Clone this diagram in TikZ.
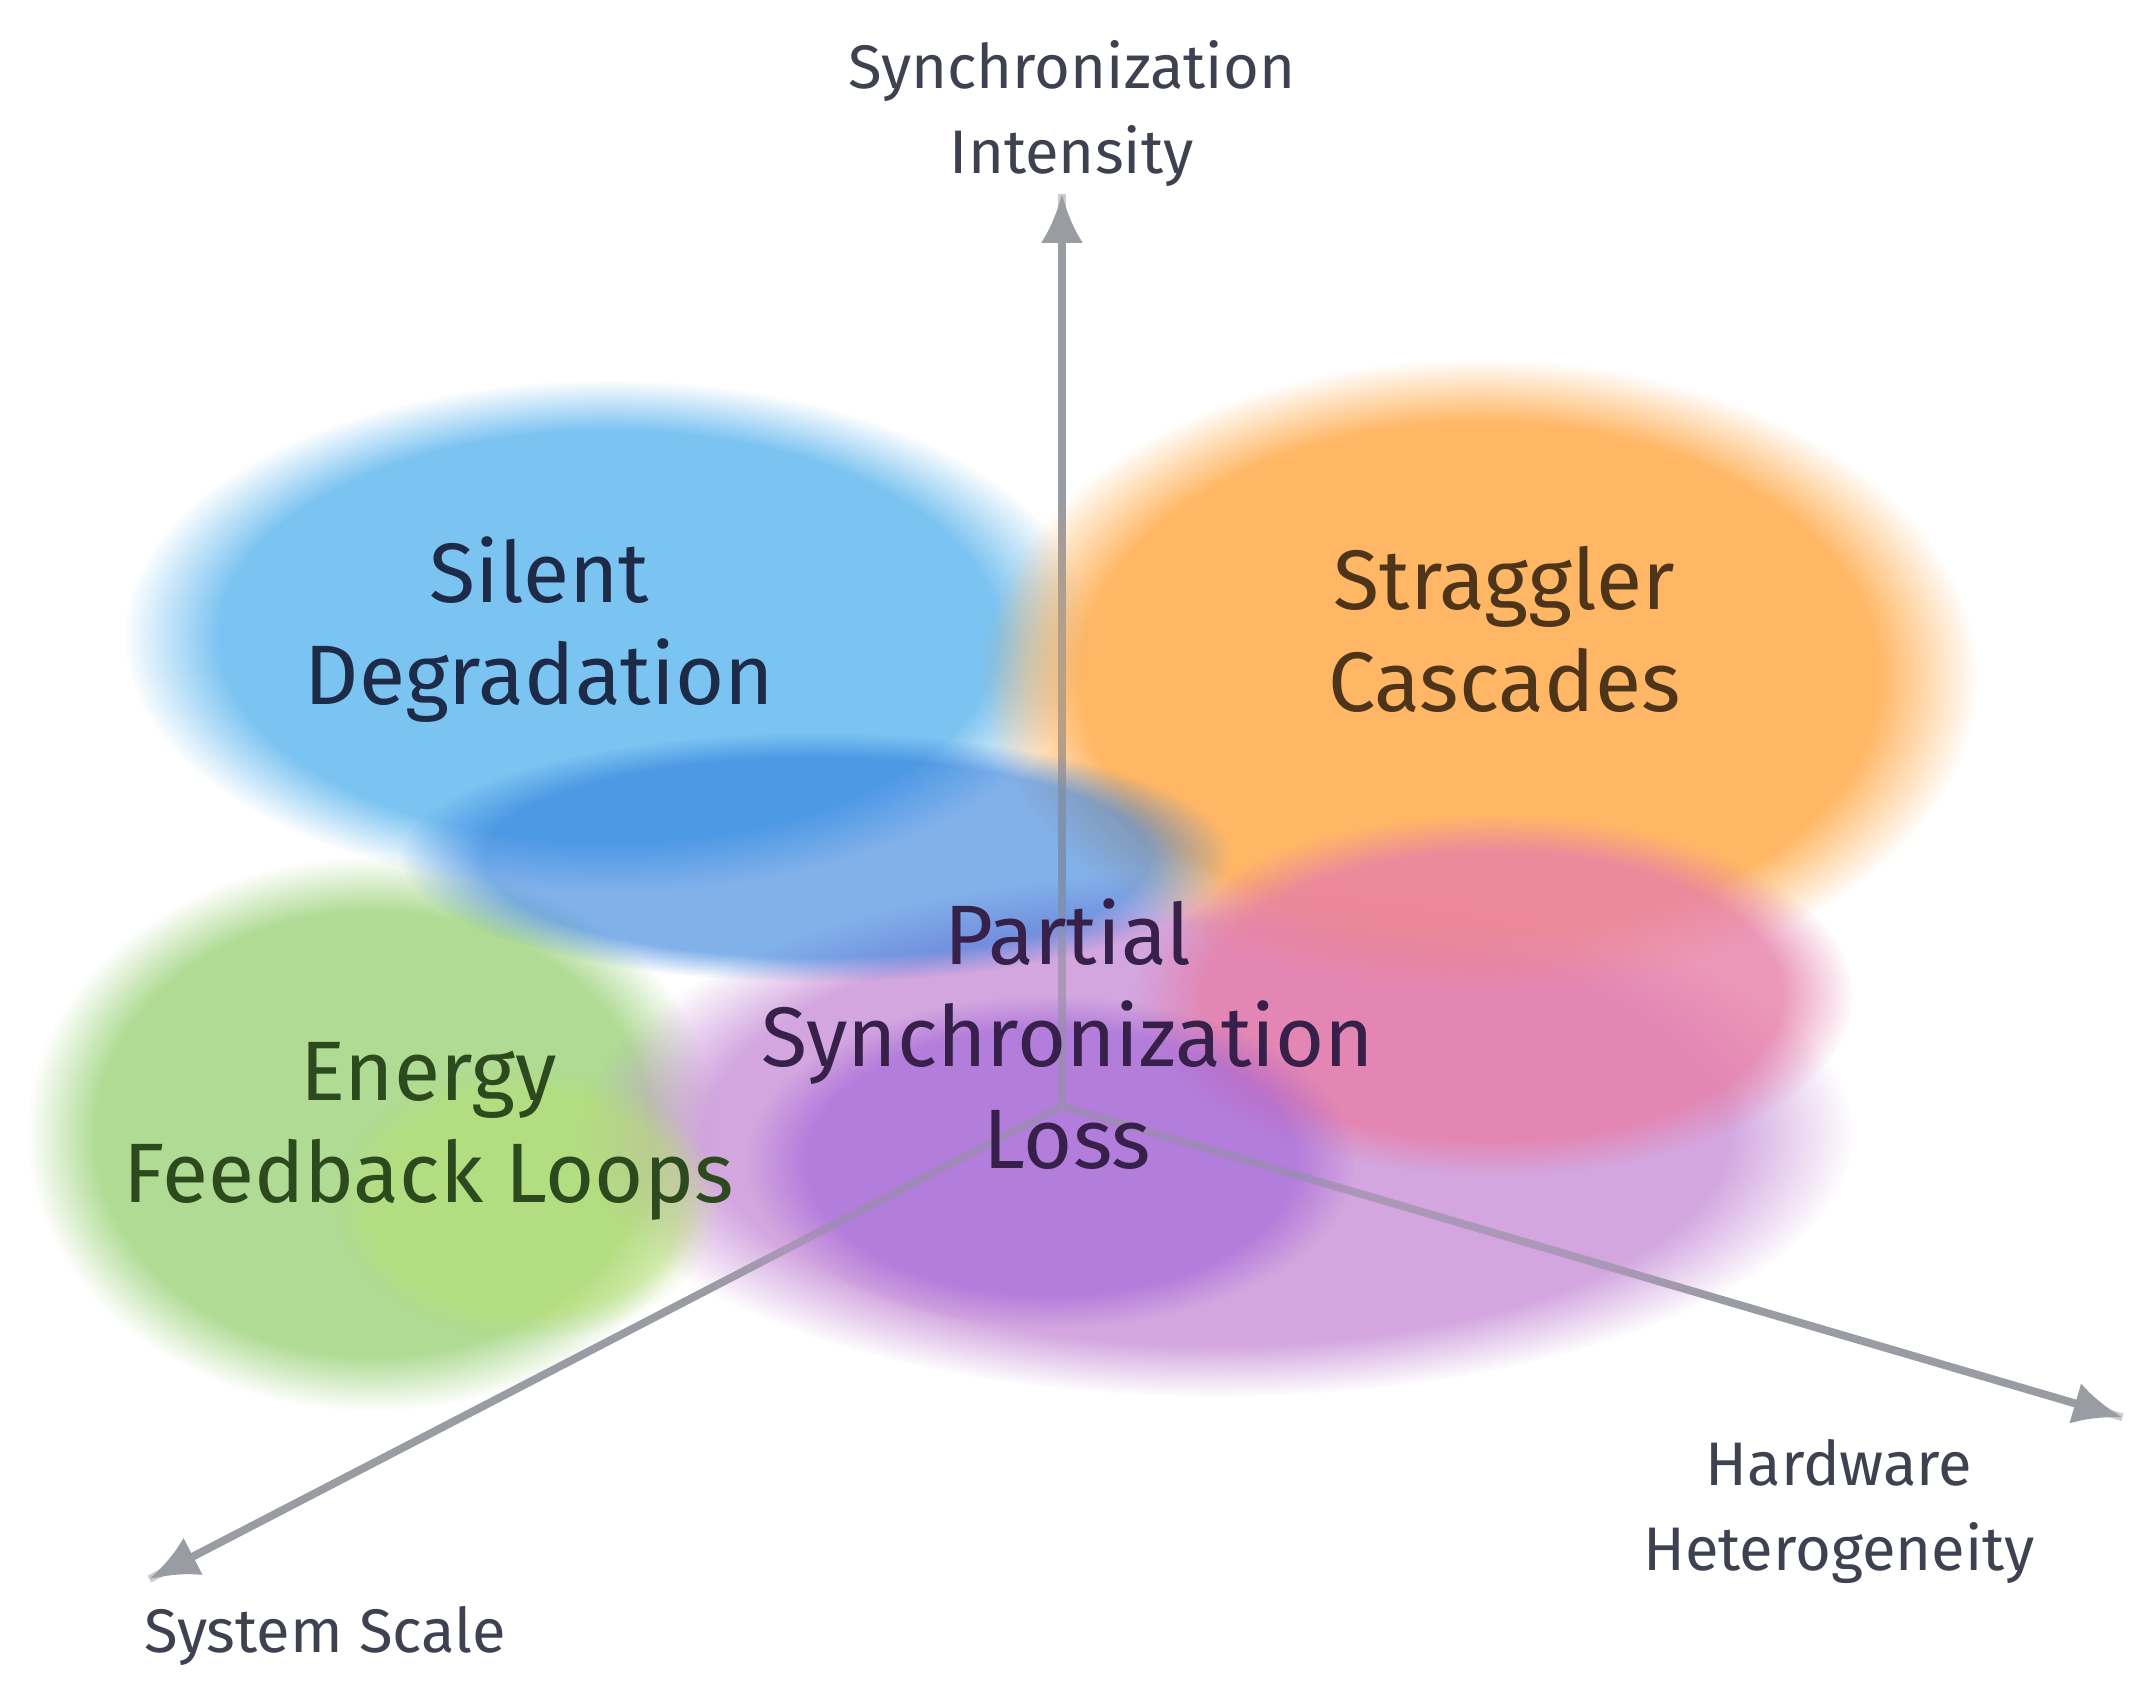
\documentclass[tikz,border=0pt]{standalone}
\usepackage{fontspec}
\setmainfont{Fira Sans}
\usetikzlibrary{fadings,arrows.meta}
\definecolor{axisc}{HTML}{9A9CA4}
\definecolor{axtext}{HTML}{3E4250}
\definecolor{cgreen}{HTML}{9CD27A}
\definecolor{cblue}{HTML}{5AB4EE}
\definecolor{cpurp}{HTML}{C890D8}
\definecolor{corange}{HTML}{FFA640}
\definecolor{cpink}{HTML}{E77FA8}
\definecolor{cdblue}{HTML}{2F7DDC}
\definecolor{cviol}{HTML}{9A5CD8}
\definecolor{clime}{HTML}{B8E070}
\definecolor{tsd}{HTML}{1E2B48}
\definecolor{tsc}{HTML}{4E3418}
\definecolor{tef}{HTML}{2C4A1E}
\definecolor{tps}{HTML}{37204A}
\tikzset{
  blob/.style={fill=#1, path fading=circle with fuzzy edge 20 percent, fill opacity=0.8},
  axis/.style={draw=axisc, line width=2.2pt, -{Latex[length=14pt,width=12pt]}},
  lab/.style={font=\fontsize{24}{29}\selectfont, align=center},
  axlab/.style={font=\fontsize{17.5}{24}\selectfont, align=center, text=axtext}
}
\begin{document}
\begin{tikzpicture}[x=0.01383cm,y=-0.01383cm]
\useasboundingbox (0,0) rectangle (1552,1230);
\fill[white] (0,0) rectangle (1552,1230);
\coordinate (o) at (768,800);
\coordinate (top) at (768,140);
\coordinate (ss) at (108,1142);
\coordinate (hw) at (1535,1025);
\draw[axis] (o) -- (top);
\draw[axis] (o) -- (ss);
\draw[axis] (o) -- (hw);
\fill[blob=cgreen] (270,820) ellipse [x radius=250, y radius=200];
\fill[blob=cblue] (440,460) ellipse [x radius=350, y radius=185];
\fill[blob=cpurp] (880,820) ellipse [x radius=460, y radius=190];
\fill[blob=corange] (1070,490) ellipse [x radius=360, y radius=230];
\fill[blob=cpink] (1080,720) ellipse [x radius=260, y radius=130];
\fill[blob=cdblue, fill opacity=0.6] (590,620) ellipse [x radius=300, y radius=90];
\fill[blob=cviol, fill opacity=0.55] (760,840) ellipse [x radius=220, y radius=120];
\fill[blob=clime, fill opacity=0.5] (380,870) ellipse [x radius=140, y radius=100];
\draw[draw=axisc, line width=2.2pt, opacity=0.5] (o) -- (top);
\draw[draw=axisc, line width=2.2pt, opacity=0.5] (o) -- (ss);
\draw[draw=axisc, line width=2.2pt, opacity=0.5] (o) -- (hw);
\node[lab, text=tsd] (sd) at (390,455) {Silent\\Degradation};
\node[lab, text=tsc] (sc) at (1088,455) {Straggler\\Cascades};
\node[lab, text=tef] (ef) at (310,818) {Energy\\Feedback Loops};
\node[lab, text=tps] (ps) at (772,748) {Partial\\Synchronization\\Loss};
\node[axlab] (ya) at (775,82) {Synchronization\\Intensity};
\node[axlab] (xa) at (235,1183) {System Scale};
\node[axlab] (za) at (1330,1093) {Hardware\\Heterogeneity};
\end{tikzpicture}
\end{document}
